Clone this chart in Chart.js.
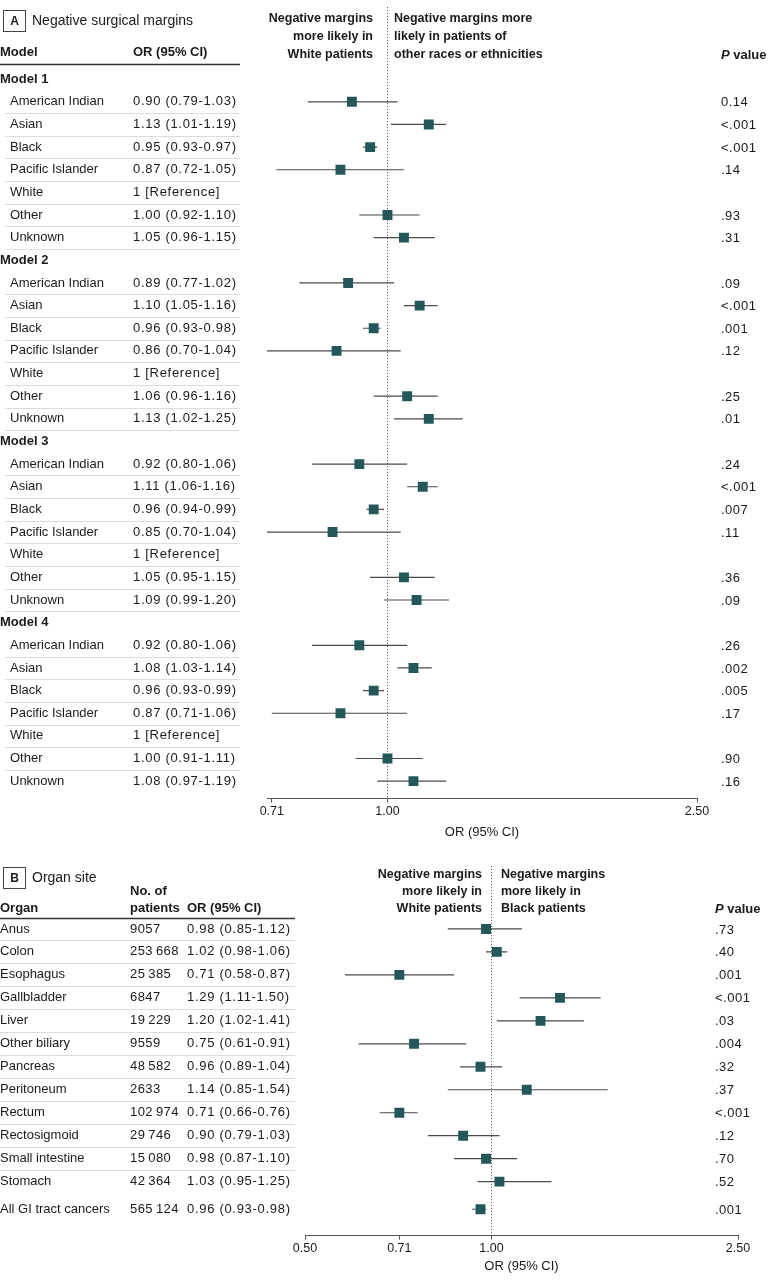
<!DOCTYPE html>
<html>
<head>
<meta charset="utf-8">
<script src="https://cdn.jsdelivr.net/npm/chart.js@4"></script>
<style>
    body { margin: 0; background: #fff; }
    #wrapA { position: absolute; left: 0; top: 0; width: 780px; height: 847px; }
    #wrapB { position: absolute; left: 0; top: 858px; width: 780px; height: 423px; }
</style>
</head>
<body>
<div id="wrapA"><canvas id="chartA"></canvas></div>
<div id="wrapB"><canvas id="chartB"></canvas></div>
<script>
// Painel A - margens negativas
const groupsA = ['American Indian', 'Asian', 'Black', 'Pacific Islander', 'White', 'Other', 'Unknown'];
const modelsA = ['Model 1', 'Model 2', 'Model 3', 'Model 4'];
const orA = [
    [0.90, 1.13, 0.95, 0.87, null, 1.00, 1.05],
    [0.89, 1.10, 0.96, 0.86, null, 1.06, 1.13],
    [0.92, 1.11, 0.96, 0.85, null, 1.05, 1.09],
    [0.92, 1.08, 0.96, 0.87, null, 1.00, 1.08]
];
const loA = [
    [0.79, 1.01, 0.93, 0.72, null, 0.92, 0.96],
    [0.77, 1.05, 0.93, 0.70, null, 0.96, 1.02],
    [0.80, 1.06, 0.94, 0.70, null, 0.95, 0.99],
    [0.80, 1.03, 0.93, 0.71, null, 0.91, 0.97]
];
const hiA = [
    [1.03, 1.19, 0.97, 1.05, null, 1.10, 1.15],
    [1.02, 1.16, 0.98, 1.04, null, 1.16, 1.25],
    [1.06, 1.16, 0.99, 1.04, null, 1.15, 1.20],
    [1.06, 1.14, 0.99, 1.06, null, 1.11, 1.19]
];
const pA = [
    ['0.14', '<.001', '<.001', '.14', '', '.93', '.31'],
    ['.09', '<.001', '.001', '.12', '', '.25', '.01'],
    ['.24', '<.001', '.007', '.11', '', '.36', '.09'],
    ['.26', '.002', '.005', '.17', '', '.90', '.16']
];
const ticksA = [0.71, 1.00, 2.50];

// Painel B - local do orgao
const organsB = ['Anus', 'Colon', 'Esophagus', 'Gallbladder', 'Liver', 'Other biliary', 'Pancreas',
    'Peritoneum', 'Rectum', 'Rectosigmoid', 'Small intestine', 'Stomach', 'All GI tract cancers'];
const patientsB = ['9057', '253\u2009668', '25\u2009385', '6847', '19\u2009229', '9559', '48\u2009582',
    '2633', '102\u2009974', '29\u2009746', '15\u2009080', '42\u2009364', '565\u2009124'];
const orB = [0.98, 1.02, 0.71, 1.29, 1.20, 0.75, 0.96, 1.14, 0.71, 0.90, 0.98, 1.03, 0.96];
const loB = [0.85, 0.98, 0.58, 1.11, 1.02, 0.61, 0.89, 0.85, 0.66, 0.79, 0.87, 0.95, 0.93];
const hiB = [1.12, 1.06, 0.87, 1.50, 1.41, 0.91, 1.04, 1.54, 0.76, 1.03, 1.10, 1.25, 0.98];
const pB = ['.73', '.40', '.001', '<.001', '.03', '.004', '.32', '.37', '<.001', '.12', '.70', '.52', '.001'];
const ticksB = [0.50, 0.71, 1.00, 2.50];

const teal = '#23575a';
const lineCol = '#4a4a4a';
const textCol = '#1a1a1a';
const FONT = '"Liberation Sans", Arial, sans-serif';

// linhas da tabela
const rowsA = [];
let pos = 0;
modelsA.forEach((m, mi) => {
    rowsA.push({ head: true, label: m, pos: pos++ });
    groupsA.forEach((g, gi) => {
        rowsA.push({ label: g, or: orA[mi][gi], lo: loA[mi][gi], hi: hiA[mi][gi], p: pA[mi][gi], pos: pos++ });
    });
});
const rowsB = organsB.map((o, i) => ({
    label: o, n: patientsB[i], or: orB[i], lo: loB[i], hi: hiB[i], p: pB[i],
    pos: i < organsB.length - 1 ? i : i + 0.2
}));

function orText(r) {
    if (r.or == null) return '1 [Reference]';
    return `${r.or.toFixed(2)} (${r.lo.toFixed(2)}-${r.hi.toFixed(2)})`;
}

function buildDatasets(rows) {
    const valid = rows.filter(r => r.or != null);
    const pts = {
        type: 'scatter',
        data: valid.map(r => ({ x: r.or, y: r.pos })),
        pointStyle: 'rect', pointRadius: 7, pointHoverRadius: 7,
        backgroundColor: teal, borderColor: teal, borderWidth: 0, order: 1
    };
    const ci = valid.map(r => ({
        type: 'line',
        data: [{ x: r.lo, y: r.pos }, { x: r.hi, y: r.pos }],
        borderColor: lineCol, borderWidth: 1.2, pointRadius: 0, order: 2
    }));
    return [pts, ...ci];
}

function xScale(min, max, ticks, titlePad) {
    return {
        type: 'logarithmic', min: min, max: max,
        afterBuildTicks: s => { s.ticks = ticks.map(v => ({ value: v })); },
        ticks: { callback: v => Number(v).toFixed(2), color: textCol, padding: 1, font: { family: FONT, size: 12.5 } },
        grid: { display: true, drawOnChartArea: false, drawTicks: true, tickLength: 4, color: '#555' },
        border: { display: true, color: '#555', width: 1 },
        title: { display: true, text: 'OR (95% CI)', color: textCol, padding: { top: titlePad, bottom: 0 }, font: { family: FONT, size: 13 } }
    };
}

function txt(ctx, s, x, y, font, align, spacing) {
    ctx.font = font;
    ctx.textAlign = align || 'left';
    ctx.letterSpacing = spacing || '0px';
    ctx.fillText(s, x, y);
}

function refLine(chart) {
    const { ctx, chartArea, scales } = chart;
    const x = Math.round(scales.x.getPixelForValue(1)) + 0.5;
    ctx.save();
    ctx.strokeStyle = '#666';
    ctx.lineWidth = 1;
    ctx.setLineDash([1.2, 1.8]);
    ctx.beginPath();
    ctx.moveTo(x, chartArea.top);
    ctx.lineTo(x, chartArea.bottom);
    ctx.stroke();
    ctx.restore();
}

function panelBox(ctx, letter, title, y) {
    ctx.strokeStyle = '#444';
    ctx.lineWidth = 1;
    ctx.strokeRect(3.5, y - 10.5, 22, 21);
    txt(ctx, letter, 14.5, y + 1, `bold 12px ${FONT}`, 'center');
    txt(ctx, title, 32, y, `14px ${FONT}`);
}

function sep(ctx, x1, x2, y, col, w) {
    ctx.strokeStyle = col;
    ctx.lineWidth = w;
    ctx.beginPath();
    ctx.moveTo(x1, y);
    ctx.lineTo(x2, y);
    ctx.stroke();
}

function pValueHead(ctx, x, y) {
    txt(ctx, 'P', x, y, `italic bold 13px ${FONT}`);
    const w = ctx.measureText('P').width;
    txt(ctx, ' value', x + w, y, `bold 13px ${FONT}`);
}

const tableA = {
    id: 'tableA',
    beforeDatasetsDraw(chart) { refLine(chart); },
    afterDraw(chart) {
        const ctx = chart.ctx, ys = chart.scales.y;
        ctx.save();
        ctx.fillStyle = textCol;
        ctx.textBaseline = 'middle';
        panelBox(ctx, 'A', 'Negative surgical margins', 21);

        const dirL = ['Negative margins', 'more likely in', 'White patients'];
        const dirR = ['Negative margins more', 'likely in patients of', 'other races or ethnicities'];
        [19, 37, 55].forEach((y, i) => {
            txt(ctx, dirL[i], 373, y, `bold 12.5px ${FONT}`, 'right');
            txt(ctx, dirR[i], 394, y, `bold 12.5px ${FONT}`, 'left');
        });
        txt(ctx, 'Model', 0, 52, `bold 13px ${FONT}`);
        txt(ctx, 'OR (95% CI)', 133, 52, `bold 13px ${FONT}`);
        pValueHead(ctx, 721, 55);
        sep(ctx, 0, 240, 64.5, '#333', 1.5);

        rowsA.forEach((r, i) => {
            const y = ys.getPixelForValue(r.pos);
            if (r.head) {
                txt(ctx, r.label, 0, y, `bold 13px ${FONT}`);
                return;
            }
            txt(ctx, r.label, 10, y, `13px ${FONT}`);
            txt(ctx, orText(r), 133, y, `13px ${FONT}`, 'left', '0.7px');
            if (r.p) txt(ctx, r.p, 721, y + 1, `13px ${FONT}`, 'left', '0.5px');
            const next = rowsA[i + 1];
            if (next) {
                const yy = Math.round((y + ys.getPixelForValue(next.pos)) / 2) + 0.5;
                sep(ctx, 5, 240, yy, '#dcdcdc', 1);
            }
        });
        ctx.restore();
    }
};

const tableB = {
    id: 'tableB',
    beforeDatasetsDraw(chart) { refLine(chart); },
    afterDraw(chart) {
        const ctx = chart.ctx, ys = chart.scales.y;
        ctx.save();
        ctx.fillStyle = textCol;
        ctx.textBaseline = 'middle';
        panelBox(ctx, 'B', 'Organ site', 20);

        const dirL = ['Negative margins', 'more likely in', 'White patients'];
        const dirR = ['Negative margins', 'more likely in', 'Black patients'];
        [17, 34, 51].forEach((y, i) => {
            txt(ctx, dirL[i], 482, y, `bold 12.5px ${FONT}`, 'right');
            txt(ctx, dirR[i], 501, y, `bold 12.5px ${FONT}`, 'left');
        });
        txt(ctx, 'No. of', 130, 33, `bold 13px ${FONT}`);
        txt(ctx, 'patients', 130, 50, `bold 13px ${FONT}`);
        txt(ctx, 'Organ', 0, 50, `bold 13px ${FONT}`);
        txt(ctx, 'OR (95% CI)', 187, 50, `bold 13px ${FONT}`);
        pValueHead(ctx, 715, 51);
        sep(ctx, 0, 295, 60.5, '#333', 1.5);

        rowsB.forEach((r, i) => {
            const y = ys.getPixelForValue(r.pos);
            txt(ctx, r.label, 0, y, `13px ${FONT}`);
            txt(ctx, r.n, 130, y, `13px ${FONT}`, 'left', '0.4px');
            txt(ctx, orText(r), 187, y, `13px ${FONT}`, 'left', '0.7px');
            txt(ctx, r.p, 715, y + 1, `13px ${FONT}`, 'left', '0.5px');
            const next = rowsB[i + 1];
            if (next && next.pos - r.pos === 1) {
                const yy = Math.round((y + ys.getPixelForValue(next.pos)) / 2) + 0.5;
                sep(ctx, 0, 295, yy, '#dcdcdc', 1);
            }
        });
        ctx.restore();
    }
};

// Grafico A: area de 5px a 795px, linhas a partir de 77px, 22.6px cada
const rowA0 = 77, stepA = 22.6, topA = 5, botA = 795;
new Chart(document.getElementById('chartA'), {
    type: 'scatter',
    data: { datasets: buildDatasets(rowsA) },
    options: {
        responsive: true,
        maintainAspectRatio: false,
        animation: false,
        layout: { padding: { top: topA, left: 267, right: 83, bottom: 847 - botA - 45.2 } },
        plugins: { legend: { display: false }, tooltip: { enabled: false } },
        scales: {
            x: xScale(0.71, 2.5, ticksA, 5),
            y: { type: 'linear', display: false, reverse: true, min: (topA - rowA0) / stepA, max: (botA - rowA0) / stepA }
        }
    },
    plugins: [tableA]
});

// Grafico B (coordenadas locais ao canvas, topo em 858px)
const rowB0 = 71, stepB = 23, topB = 8, botB = 378;
new Chart(document.getElementById('chartB'), {
    type: 'scatter',
    data: { datasets: buildDatasets(rowsB) },
    options: {
        responsive: true,
        maintainAspectRatio: false,
        animation: false,
        layout: { padding: { top: topB, left: 305, right: 42, bottom: 423 - botB - 38.2 } },
        plugins: { legend: { display: false }, tooltip: { enabled: false } },
        scales: {
            x: xScale(0.5, 2.5, ticksB, 2),
            y: { type: 'linear', display: false, reverse: true, min: (topB - rowB0) / stepB, max: (botB - rowB0) / stepB }
        }
    },
    plugins: [tableB]
});
</script>
</body>
</html>
